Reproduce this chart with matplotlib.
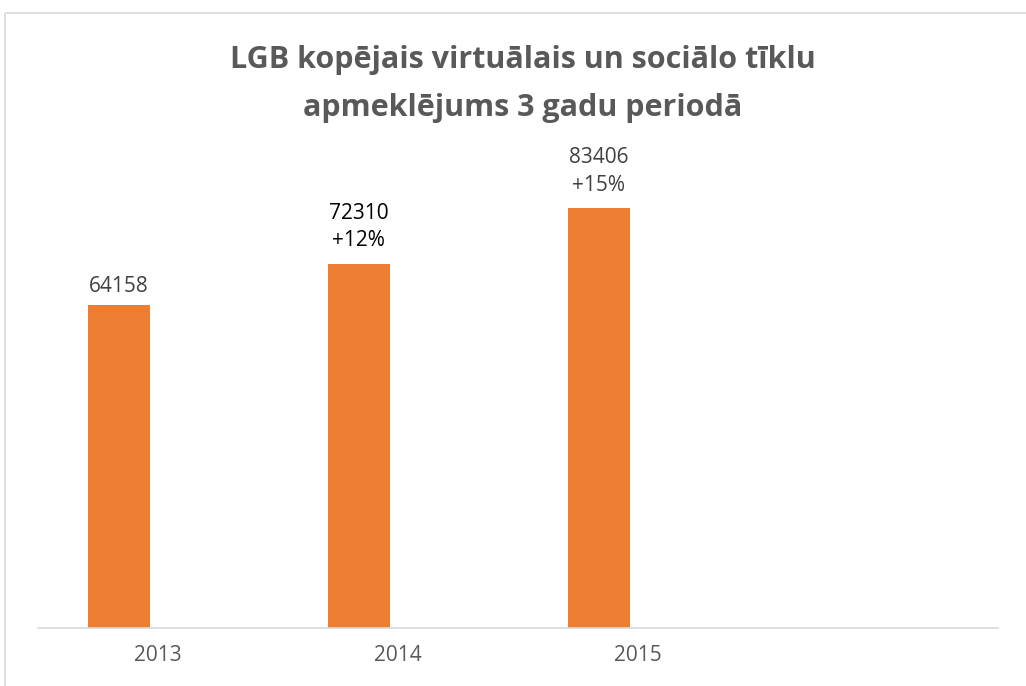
import numpy as np
import matplotlib
matplotlib.use("Agg")
import matplotlib.pyplot as plt
from matplotlib.lines import Line2D

years = ["2013", "2014", "2015", ""]
visits = [64158, 72310, 83406, 0]
growth = ["", "+12%", "+15%", ""]
label_colors = ["#404040", "#000000", "#404040", "#404040"]

C_BAR = "#ed7d31"
plt.rcParams["font.family"] = ["Open Sans", "DejaVu Sans"]

fig = plt.figure(figsize=(10.26, 6.86), dpi=100)
ax = fig.add_axes([38 / 1026, 58 / 686, 960 / 1026, 503.5 / 686])

x = np.arange(len(years))
n_real = 3
# first series of an Excel cluster -> bar sits left of the category centre
shift = -0.163
ax.bar(x[:n_real] + shift, visits[:n_real], width=0.26, color=C_BAR)
for i in range(n_real):
    if growth[i]:
        txt, off = f"{visits[i]}\n{growth[i]}", 9
    else:
        txt, off = str(visits[i]), 6
    ax.annotate(txt, xy=(x[i] + shift, visits[i]), xytext=(0, off), textcoords="offset points",
                ha="center", va="bottom", fontsize=15, color=label_colors[i],
                linespacing=1.4)

ax.set_xlim(-0.5, len(years) - 0.5)
ax.set_ylim(0, 100000)
ax.set_xticks(x)
ax.set_xticklabels(years, fontsize=15, color="#595959")
ax.tick_params(axis="x", length=0, pad=12)
ax.set_yticks([])
for s in ["top", "right", "left"]:
    ax.spines[s].set_visible(False)
ax.spines["bottom"].set_color("#d9d9d9")
ax.spines["bottom"].set_linewidth(1.2)

fig.text(523 / 1026, 1 - 84 / 686, "LGB kopējais virtuālais un sociālo tīklu\napmeklējums 3 gadu periodā",
         ha="center", va="center", fontsize=22, fontweight="bold", color="#595959",
         linespacing=1.75)

# chart area border (cropped on right/bottom)
fig.add_artist(Line2D([5 / 1026, 5 / 1026, 1.0], [0, 1 - 13 / 686, 1 - 13 / 686],
                      transform=fig.transFigure, color="#d9d9d9", linewidth=1.2))

fig.savefig("out.png", dpi=100)
